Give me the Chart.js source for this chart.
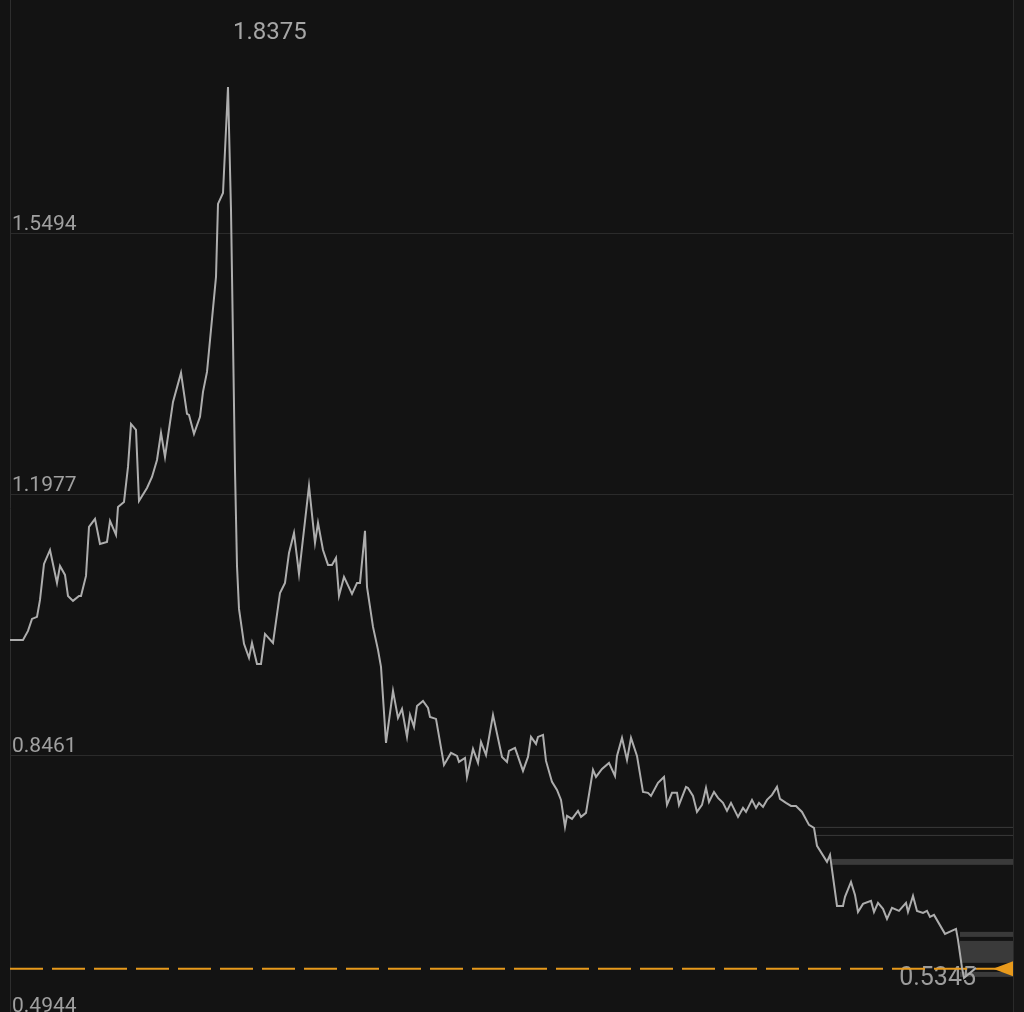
<!DOCTYPE html>
<html lang="en">
<head>
    <meta charset="UTF-8">
    <title>Price chart</title>
    <style>
        html, body {
            margin: 0;
            padding: 0;
            background: #131313;
            overflow: hidden;
        }
        .wrap {
            width: 1024px;
            height: 1024px;
        }
    </style>
</head>
<body>
    <div class="wrap">
        <canvas id="priceChart" width="1024" height="1024"></canvas>
    </div>

    <script src="https://cdn.jsdelivr.net/npm/chart.js"></script>
    <script>
    // time steps (arbitrary units from first point)
    const timeSteps = [
        0, 13, 18, 22, 27, 30, 34, 40, 47, 50, 55, 58, 63, 69, 71, 76, 79, 85, 90, 97,
        100, 106, 108, 114, 118, 121, 126, 129, 137, 142, 147, 151, 155, 163, 171, 177, 179, 184, 190, 193,
        197, 206, 208, 213, 218, 221, 225, 227, 229, 234, 239, 242, 247, 251, 255, 263, 270, 275, 279, 284,
        289, 299, 305, 308, 313, 318, 322, 326, 329, 334, 342, 347, 350, 355, 357, 363, 368, 371, 376, 383,
        388, 392, 397, 400, 404, 407, 413, 418, 420, 426, 434, 441, 447, 449, 455, 457, 463, 468, 471, 476,
        483, 492, 497, 499, 505, 513, 518, 521, 526, 528, 533, 536, 542, 547, 551, 555, 557, 562, 568, 571,
        576, 583, 586, 592, 599, 605, 607, 612, 617, 621, 627, 633, 638, 641, 648, 654, 657, 662, 667, 669,
        676, 678, 683, 687, 692, 696, 699, 704, 708, 713, 717, 721, 728, 733, 736, 742, 746, 749, 753, 757,
        762, 767, 770, 776, 781, 786, 792, 799, 804, 807, 817, 820, 827, 833, 835, 841, 845, 848, 853, 861,
        864, 868, 873, 877, 882, 889, 896, 898, 903, 907, 913, 917, 920, 924, 935, 946, 948, 952, 954, 966
    ];

    const prices = [
        1.0017, 1.0017, 1.0139, 1.0301, 1.0328, 1.0557, 1.1043, 1.1231, 1.0786, 1.1016,
        1.0894, 1.0611, 1.0544, 1.0611, 1.0611, 1.0881, 1.1542, 1.1650, 1.1312, 1.1339,
        1.1623, 1.1434, 1.1811, 1.1879, 1.2351, 1.2931, 1.2850, 1.1892, 1.2068, 1.2216,
        1.2445, 1.2810, 1.2486, 1.3228, 1.3619, 1.3066, 1.3052, 1.2796, 1.3026, 1.3363,
        1.3633, 1.4914, 1.5899, 1.6047, 1.7477, 1.5818, 1.2311, 1.1016, 1.0436, 0.9964,
        0.9775, 0.9977, 0.9694, 0.9694, 1.0098, 0.9977, 1.0651, 1.0786, 1.1191, 1.1461,
        1.0908, 1.2095, 1.1326, 1.1596, 1.1231, 1.1029, 1.1029, 1.1124, 1.0611, 1.0867,
        1.0638, 1.0786, 1.0786, 1.1488, 1.0732, 1.0193, 0.9883, 0.9653, 0.8628, 0.9330,
        0.8965, 0.9087, 0.8709, 0.9006, 0.8844, 0.9127, 0.9195, 0.9100, 0.8979, 0.8952,
        0.8331, 0.8493, 0.8453, 0.8372, 0.8426, 0.8169, 0.8547, 0.8358, 0.8642, 0.8466,
        0.9006, 0.8439, 0.8372, 0.8520, 0.8561, 0.8250, 0.8439, 0.8709, 0.8615, 0.8709,
        0.8736, 0.8385, 0.8102, 0.7994, 0.7859, 0.7495, 0.7643, 0.7603, 0.7711, 0.7630,
        0.7684, 0.8264, 0.8169, 0.8277, 0.8358, 0.8183, 0.8453, 0.8696, 0.8399, 0.8696,
        0.8453, 0.7967, 0.7954, 0.7913, 0.8089, 0.8169, 0.7792, 0.7954, 0.7954, 0.7792,
        0.8035, 0.8021, 0.7913, 0.7697, 0.7792, 0.8021, 0.7832, 0.7967, 0.7886, 0.7819,
        0.7711, 0.7819, 0.7630, 0.7751, 0.7697, 0.7859, 0.7751, 0.7819, 0.7765, 0.7859,
        0.7927, 0.8035, 0.7873, 0.7819, 0.7778, 0.7778, 0.7697, 0.7522, 0.7482, 0.7239,
        0.7023, 0.7117, 0.6429, 0.6429, 0.6551, 0.6753, 0.6578, 0.6348, 0.6456, 0.6497,
        0.6348, 0.6470, 0.6389, 0.6254, 0.6402, 0.6362, 0.6470, 0.6348, 0.6564, 0.6362,
        0.6335, 0.6362, 0.6281, 0.6308, 0.6052, 0.6119, 0.5971, 0.5593, 0.5458, 0.5593
    ];

    const yTicks = [1.5494, 1.1977, 0.8461, 0.4944];
    const yMin = 0.4944;
    const yMax = 1.8650;
    const xMax = 1003;

    const highLabel = '1.8375';
    const highPrice = 1.8375;
    const lastLabel = '0.5345';
    const lastPriceLine = 0.5580;

    // resting order bands on the right: [high, low] and start time
    const bandHigh  = [0.7495, 0.7387, 0.7063, 0.6079, 0.5957, 0.5539];
    const bandLow   = [0.7482, 0.7376, 0.6983, 0.6011, 0.5661, 0.5472];
    const bandStart = [805, 805, 822, 950, 950, 950];

    const ORANGE = '#e89a1c';

    const overlayPlugin = {
        id: 'overlay',
        beforeDatasetsDraw(chart) {
            const { ctx, chartArea, scales } = chart;
            const x = scales.x, y = scales.y;
            ctx.save();

            // strip right of the plot
            ctx.fillStyle = '#161616';
            ctx.fillRect(chartArea.right, 0, chart.width - chartArea.right, chart.height);

            // order bands
            ctx.fillStyle = '#3a3a3a';
            for (let i = 0; i < bandHigh.length; i++) {
                const x0 = x.getPixelForValue(bandStart[i]);
                const y0 = y.getPixelForValue(bandHigh[i]);
                const y1 = y.getPixelForValue(bandLow[i]);
                ctx.fillRect(x0, y0, chartArea.right - x0, Math.max(1, y1 - y0));
            }

            // right border
            ctx.strokeStyle = '#2a2a2a';
            ctx.lineWidth = 1;
            ctx.beginPath();
            ctx.moveTo(chartArea.right + 0.5, 0);
            ctx.lineTo(chartArea.right + 0.5, chart.height);
            ctx.stroke();

            // labels
            ctx.fillStyle = '#a6a6a6';
            ctx.font = '24px Roboto, "DejaVu Sans", sans-serif';
            ctx.textBaseline = 'alphabetic';
            ctx.textAlign = 'left';
            const peakIdx = prices.indexOf(Math.max(...prices));
            ctx.fillText(highLabel, x.getPixelForValue(timeSteps[peakIdx]) + 5, y.getPixelForValue(highPrice) + 19);

            const ly = y.getPixelForValue(lastPriceLine);
            ctx.fillStyle = '#9c9c9c';
            ctx.font = '25px Roboto, "DejaVu Sans", sans-serif';
            ctx.textAlign = 'right';
            ctx.fillText(lastLabel, chartArea.right - 37, ly + 16);
            ctx.restore();
        },
        afterDatasetsDraw(chart) {
            const { ctx, chartArea, scales } = chart;
            const ly = scales.y.getPixelForValue(lastPriceLine);
            ctx.save();
            ctx.fillStyle = ORANGE;
            ctx.beginPath();
            ctx.moveTo(chartArea.right - 20, ly);
            ctx.lineTo(chartArea.right, ly - 7.5);
            ctx.lineTo(chartArea.right, ly + 7.5);
            ctx.closePath();
            ctx.fill();
            ctx.restore();
        }
    };

    const ctx = document.getElementById('priceChart').getContext('2d');
    new Chart(ctx, {
        type: 'line',
        data: {
            datasets: [
                {
                    data: timeSteps.map((t, i) => ({ x: t, y: prices[i] })),
                    borderColor: '#adadad',
                    borderWidth: 2,
                    pointRadius: 0,
                    tension: 0
                },
                {
                    data: [{ x: 0, y: lastPriceLine }, { x: xMax, y: lastPriceLine }],
                    borderColor: ORANGE,
                    borderWidth: 2,
                    borderDash: [33, 9],
                    pointRadius: 0
                }
            ]
        },
        options: {
            responsive: false,
            animation: false,
            devicePixelRatio: 1,
            layout: { padding: { left: 6, right: 11, top: 0, bottom: 8 } },
            plugins: {
                legend: { display: false },
                tooltip: { enabled: false }
            },
            scales: {
                x: {
                    type: 'linear',
                    min: 0,
                    max: xMax,
                    display: false
                },
                y: {
                    type: 'linear',
                    position: 'left',
                    min: yMin,
                    max: yMax,
                    afterBuildTicks: (scale) => {
                        scale.ticks = yTicks.map(v => ({ value: v }));
                    },
                    afterFit: (scale) => {
                        // labels sit inside the plot, no extra room needed
                        scale.paddingTop = 0;
                        scale.paddingBottom = 0;
                    },
                    grid: {
                        color: '#2b2b2b',
                        lineWidth: 1,
                        drawTicks: false
                    },
                    border: {
                        display: true,
                        color: '#2e2e2e',
                        width: 1
                    },
                    ticks: {
                        mirror: true,
                        padding: 2,
                        labelOffset: -9,
                        color: '#a0a0a0',
                        font: { family: 'Roboto', size: 21 },
                        callback: (v) => Number(v).toFixed(4)
                    }
                }
            }
        },
        plugins: [overlayPlugin]
    });
    </script>
</body>
</html>
